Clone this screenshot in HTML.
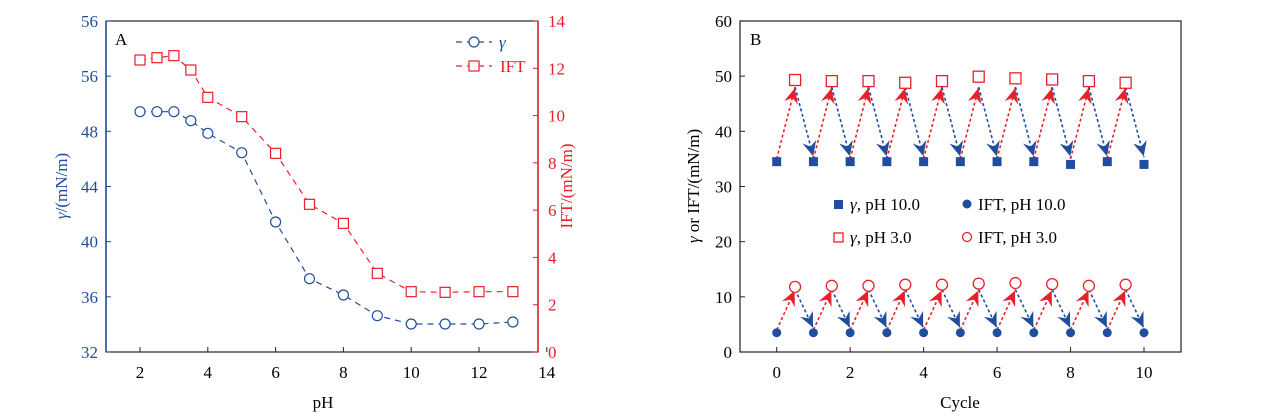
<!DOCTYPE html>
<html><head><meta charset="utf-8"><style>
html,body{margin:0;padding:0;background:#fff;}
svg text{font-family:"Liberation Serif",serif;}
</style></head><body>
<svg id="s" width="1267" height="414" xmlns="http://www.w3.org/2000/svg"></svg>
<script>
const s=document.getElementById('s');let h='';
const B='#1f4e9e',R='#e8202a';
// Panel A
const L=106,Rr=538,T=21,Bt=352;
h+=`<rect x="${L}" y="${T}" width="${Rr-L}" height="${Bt-T}" fill="none" stroke="#222" stroke-width="1.2"/>`;
h+=`<line x1="${L}" y1="${T}" x2="${L}" y2="${Bt}" stroke="${B}" stroke-width="1.5"/>`;
h+=`<line x1="${Rr}" y1="${T}" x2="${Rr}" y2="${Bt}" stroke="${R}" stroke-width="1.5"/>`;
const la=['56','56','48','44','40','36','32'];
for(let i=0;i<7;i++){const y=T+i*(Bt-T)/6;h+=`<line x1="${L}" y1="${y}" x2="${L+5}" y2="${y}" stroke="${B}"/><text x="${L-8}" y="${y+6}" font-size="17" fill="${B}" text-anchor="end">${la[i]}</text>`;}
for(let i=0;i<=7;i++){const y=Bt-i*(Bt-T)/7;h+=`<line x1="${Rr-5}" y1="${y}" x2="${Rr}" y2="${y}" stroke="${R}"/><text x="${Rr+10}" y="${y+6}" font-size="17" fill="${R}">${2*i}</text>`;}
const px=p=>140+(p-2)*33.9;
for(let p=2;p<=14;p+=2){const x=px(p);h+=`<line x1="${x}" y1="${Bt}" x2="${x}" y2="${Bt-5}" stroke="#222"/><text x="${x}" y="${Bt+26}" font-size="17" text-anchor="middle">${p}</text>`;}
h+=`<text x="323" y="408" font-size="17" text-anchor="middle">pH</text>`;
h+=`<text transform="translate(67,186) rotate(-90)" font-size="17" fill="${B}" text-anchor="middle"><tspan font-style="italic">γ</tspan>/(mN/m)</text>`;
h+=`<text transform="translate(572,186) rotate(-90)" font-size="17" fill="${R}" text-anchor="middle">IFT/(mN/m)</text>`;
h+=`<text x="115" y="45" font-size="17">A</text>`;
const ph=[2,2.5,3,3.5,4,5,6,7,8,9,10,11,12,13];
const gc=[335,335,335,362,400,458,666,836,885,947,972,972,972,966];
const sq=[180,173,167,210,292,350,460,613,670,820,875,877,875,875];
let pc=ph.map((p,i)=>[px(p),gc[i]/3]),ps=ph.map((p,i)=>[px(p),sq[i]/3]);
h+=`<polyline points="${pc.map(a=>a.join(',')).join(' ')}" fill="none" stroke="${B}" stroke-width="1.2" stroke-dasharray="6,5"/>`;
h+=`<polyline points="${ps.map(a=>a.join(',')).join(' ')}" fill="none" stroke="${R}" stroke-width="1.2" stroke-dasharray="6,5"/>`;
pc.forEach(a=>h+=`<circle cx="${a[0]}" cy="${a[1]}" r="5" fill="#fff" stroke="${B}" stroke-width="1.2"/>`);
ps.forEach(a=>h+=`<rect x="${a[0]-5}" y="${a[1]-5}" width="10" height="10" fill="#fff" stroke="${R}" stroke-width="1.2"/>`);
h+=`<line x1="456" y1="42" x2="492" y2="42" stroke="${B}" stroke-width="1.2" stroke-dasharray="6,5"/><circle cx="474" cy="42" r="5" fill="#fff" stroke="${B}" stroke-width="1.2"/><text x="499" y="48" font-size="17" fill="${B}" font-style="italic">γ</text>`;
h+=`<line x1="456" y1="66" x2="492" y2="66" stroke="${R}" stroke-width="1.2" stroke-dasharray="6,5"/><rect x="469" y="61" width="10" height="10" fill="#fff" stroke="${R}" stroke-width="1.2"/><text x="500" y="72" font-size="17" fill="${R}">IFT</text>`;
// Panel B
const L2=740,R2=1181;
h+=`<rect x="${L2}" y="${T}" width="${R2-L2}" height="${Bt-T}" fill="none" stroke="#222" stroke-width="1.2"/>`;
const yb=v=>Bt-v*5.517,xb=c=>776.7+c*36.73;
for(let v=0;v<=60;v+=10){const y=yb(v);h+=`<line x1="${L2}" y1="${y}" x2="${L2+5}" y2="${y}" stroke="#222"/><text x="${L2-8}" y="${y+6}" font-size="17" text-anchor="end">${v}</text>`;}
for(let c=0;c<=10;c+=2){const x=xb(c);h+=`<line x1="${x}" y1="${Bt}" x2="${x}" y2="${Bt-5}" stroke="#222"/><text x="${x}" y="${Bt+26}" font-size="17" text-anchor="middle">${c}</text>`;}
h+=`<text x="960" y="408" font-size="17" text-anchor="middle">Cycle</text>`;
h+=`<text transform="translate(699,186) rotate(-90)" font-size="17" text-anchor="middle"><tspan font-style="italic">γ</tspan> or IFT/(mN/m)</text>`;
h+=`<text x="750" y="45" font-size="17">B</text>`;
function arrow(x1,y1,x2,y2,col){
 const dx=x2-x1,dy=y2-y1,l=Math.hypot(dx,dy),ux=dx/l,uy=dy/l,nx=-uy,ny=ux;
 h+=`<line x1="${x1}" y1="${y1}" x2="${x2}" y2="${y2}" stroke="${col}" stroke-width="1.6" stroke-dasharray="3,2.5"/>`;
 const tx=x2-ux*1,ty=y2-uy*1,bx=tx-ux*15,by=ty-uy*15,mx=tx-ux*10,my=ty-uy*10;
 h+=`<polygon points="${tx},${ty} ${bx+nx*7},${by+ny*7} ${mx},${my} ${bx-nx*7},${by-ny*7}" fill="${col}"/>`;
}
const topS=[49.3,49.1,49.1,48.8,49.1,49.9,49.6,49.4,49.1,48.8];
const botB=[34.5,34.5,34.5,34.5,34.5,34.5,34.5,34.5,34.0,34.5,34.0];
const topC=[11.8,12.0,12.0,12.2,12.2,12.4,12.5,12.3,12.0,12.2];
for(let c=0;c<10;c++){
 arrow(xb(c),yb(35),xb(c+0.5),yb(48),R);
 arrow(xb(c+0.5),yb(48),xb(c+1),yb(35.3),B);
 arrow(xb(c),yb(4),xb(c+0.5),yb(11.3),R);
 arrow(xb(c+0.5),yb(11.3),xb(c+1),yb(4.3),B);
}
for(let c=0;c<=10;c++){h+=`<rect x="${xb(c)-4.5}" y="${yb(botB[c])-4.5}" width="9" height="9" fill="${B}"/><circle cx="${xb(c)}" cy="${yb(3.5)}" r="4.5" fill="${B}"/>`;}
for(let c=0;c<10;c++){const x=xb(c+0.5);h+=`<rect x="${x-5.5}" y="${yb(topS[c])-5.5}" width="11" height="11" fill="#fff" stroke="${R}" stroke-width="1.3"/><circle cx="${x}" cy="${yb(topC[c])}" r="5.5" fill="#fff" stroke="${R}" stroke-width="1.3"/>`;}
h+=`<rect x="834" y="200" width="9" height="9" fill="${B}"/><text x="850" y="210" font-size="17"><tspan font-style="italic">γ</tspan>, pH 10.0</text>`;
h+=`<circle cx="967" cy="204" r="4.5" fill="${B}"/><text x="978" y="210" font-size="17">IFT, pH 10.0</text>`;
h+=`<rect x="834" y="233" width="9" height="9" fill="#fff" stroke="${R}" stroke-width="1.3"/><text x="850" y="243" font-size="17"><tspan font-style="italic">γ</tspan>, pH 3.0</text>`;
h+=`<circle cx="967" cy="237" r="4.5" fill="#fff" stroke="${R}" stroke-width="1.3"/><text x="978" y="243" font-size="17">IFT, pH 3.0</text>`;
s.innerHTML=h;
</script>
</body></html>
